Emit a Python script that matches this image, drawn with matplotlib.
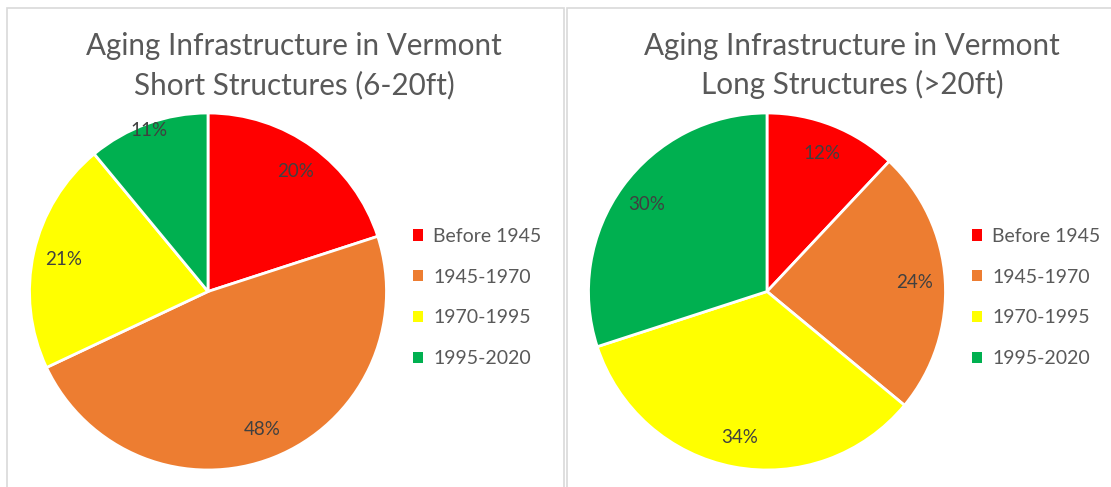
import numpy as np
import matplotlib
matplotlib.use("Agg")
import matplotlib.pyplot as plt
from matplotlib.patches import Rectangle

plt.rcParams['font.family'] = ['Lato', 'DejaVu Sans']

# data
periods = ['Before 1945', '1945-1970', '1970-1995', '1995-2020']
short_pct = [20, 48, 21, 11]
long_pct = [12, 24, 34, 30]
titles = ['Aging Infrastructure in Vermont\nShort Structures (6-20ft)',
          'Aging Infrastructure in Vermont\nLong Structures (>20ft)']
colors = ['#FF0000', '#ED7D31', '#FFFF00', '#00B050']

W, H = 1111, 487
fig = plt.figure(figsize=(W / 100, H / 100), dpi=100)


def px_axes(x0, y0, w, h):
    # pixel box measured from the top-left corner
    return fig.add_axes([x0 / W, 1 - (y0 + h) / H, w / W, h / H])


# panel borders
for x0, x1 in [(7, 564), (567, 1120)]:
    fig.add_artist(Rectangle((x0 / W, -0.05), (x1 - x0) / W, 1 - 8 / H + 0.05,
                             transform=fig.transFigure, fill=False,
                             ec='#D9D9D9', lw=1.2))

R = 178.5
panels = [(208, short_pct, 294, 413), (767, long_pct, 852, 972)]
for i, (cx, vals, tx, lx) in enumerate(panels):
    cy = 291.5
    ax = px_axes(cx - R, cy - R, 2 * R, 2 * R)
    wedges, texts, autotexts = ax.pie(
        vals, colors=colors, startangle=90, counterclock=False,
        autopct='%d%%', pctdistance=0.83, radius=1,
        wedgeprops=dict(edgecolor='white', linewidth=2),
        textprops=dict(color='#404040', fontsize=13.5))
    ax.set_xlim(-1, 1)
    ax.set_ylim(-1, 1)
    ax.set_aspect('equal')
    # small slice label sits near the rim, as in the original
    for w, t, v in zip(wedges, autotexts, vals):
        if v < 12 and i == 0:
            a = np.deg2rad((w.theta1 + w.theta2) / 2)
            t.set_position((0.97 * np.cos(a), 0.96 * np.sin(a)))

    fig.text(tx / W, 1 - 55 / H, titles[i].split('\n')[0], ha='center',
             va='baseline', fontsize=21.3, color='#595959')
    fig.text(tx / W, 1 - 94 / H, titles[i].split('\n')[1], ha='center',
             va='baseline', fontsize=21.3, color='#595959')

    leg = ax.legend(wedges, periods, loc='center left',
                    bbox_to_anchor=(lx / W, 1 - 297.5 / H),
                    bbox_transform=fig.transFigure, frameon=False,
                    fontsize=14, handlelength=0.5, handleheight=0.5,
                    handletextpad=0.55, labelspacing=1.22, borderpad=0,
                    borderaxespad=0)
    for t in leg.get_texts():
        t.set_color('#595959')
    for h in leg.legend_handles:
        h.set_edgecolor('none')

fig.savefig('out.png', dpi=100)
